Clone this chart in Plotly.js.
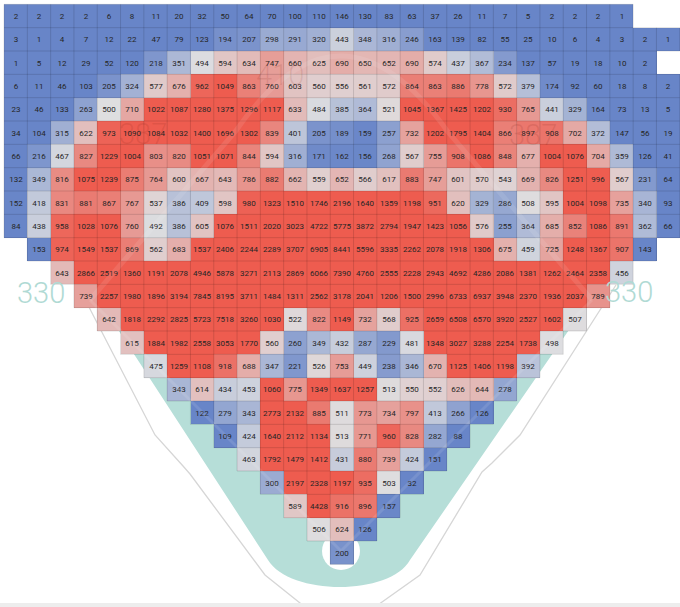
<!DOCTYPE html>
<html><head><meta charset="utf-8">
<script src="https://cdn.plot.ly/plotly-3.0.1.min.js"></script>
<style>html,body{margin:0;padding:0;background:#fff;overflow:hidden}</style>
</head><body><div id="chart" style="width:680px;height:607px"></div>
<script>
// ---- data ----
const nCols = 29;
const rowStart = [0,0,0,0,0,0,0,0,0,0,1,2,3,4,5,6,7,8,9,10,11,12,13,14];
const row00 = [2,2,2,2,6,8,11,20,32,50,64,70,100,110,146,130,83,63,37,26,11,7,5,2,2,2,1];
const row01 = [3,1,4,7,12,22,47,79,123,194,207,298,291,320,443,348,316,246,163,139,82,55,25,10,6,4,3,2,1];
const row02 = [1,5,12,29,52,120,218,351,494,594,634,747,660,625,690,650,652,690,574,437,367,234,137,57,19,18,10,2];
const row03 = [6,11,46,103,205,324,577,676,962,1049,863,760,603,560,556,561,572,864,863,886,778,572,379,174,92,60,18,8,2];
const row04 = [23,46,133,263,500,710,1022,1087,1280,1375,1296,1117,633,484,385,364,521,1045,1367,1425,1202,930,765,441,329,164,73,13,5];
const row05 = [34,104,315,622,973,1090,1084,1032,1400,1696,1302,839,401,205,189,159,257,732,1202,1795,1404,866,897,908,702,372,147,56,19];
const row06 = [66,216,467,827,1229,1004,803,820,1051,1071,844,594,316,171,162,156,268,567,755,908,1086,848,677,1004,1076,704,359,126,41];
const row07 = [132,349,816,1075,1239,875,764,600,667,643,786,882,662,559,652,566,617,883,747,601,570,543,669,826,1251,996,567,231,64];
const row08 = [152,418,831,881,867,767,537,386,409,598,980,1323,1510,1746,2196,1640,1359,1198,951,620,329,286,508,595,1004,1098,735,340,93];
const row09 = [84,438,958,1028,1076,760,492,386,605,1076,1511,2020,3023,4722,5775,3872,2794,1947,1423,1056,576,255,364,685,852,1086,891,362,66];
const row10 = [153,974,1549,1537,869,562,683,1537,2406,2244,2289,3707,6905,8441,5596,3335,2262,2078,1918,1306,675,459,725,1248,1367,907,143];
const row11 = [643,2866,2519,1360,1191,2078,4946,5878,3271,2113,2869,6066,7390,4760,2555,2228,2943,4692,4286,2086,1381,1262,2464,2358,456];
const row12 = [739,2257,1980,1896,3194,7845,8195,3711,1484,1311,2562,3178,2041,1206,1500,2996,6733,6937,3948,2370,1936,2037,789];
const row13 = [642,1818,2292,2825,5723,7518,3260,1030,522,822,1149,732,568,925,2659,6508,6570,3920,2527,1602,507];
const row14 = [615,1884,1982,2558,3053,1770,560,260,349,432,287,229,481,1348,3027,3288,2254,1738,498];
const row15 = [475,1259,1108,918,688,347,221,526,753,449,238,346,670,1125,1406,1198,392];
const row16 = [343,614,434,453,1060,775,1349,1637,1257,513,550,552,626,644,278];
const row17 = [122,279,343,2773,2132,885,511,773,734,797,413,266,126];
const row18 = [109,424,1640,2112,1134,513,771,960,828,282,88];
const row19 = [463,1792,1479,1412,431,880,739,424,151];
const row20 = [300,2197,2328,1197,935,503,32];
const row21 = [589,4428,916,896,157];
const row22 = [506,624,126];
const row23 = [200];
const distLabels = ["330","387","410","387","330"];

const rows = [row00,row01,row02,row03,row04,row05,row06,row07,row08,row09,row10,row11,
              row12,row13,row14,row15,row16,row17,row18,row19,row20,row21,row22,row23];
const nRows = rows.length;
const z = rows.map((r,j)=>{const a=new Array(nCols).fill(null); r.forEach((v,k)=>{a[rowStart[j]+k]=v;}); return a;});
const txt = z.map(r=>r.map(v=>v==null?'':String(v)));
const xs = [...Array(nCols).keys()];
const ys = [...Array(nRows).keys()];

// cell borders derived from the grid
const bx=[], by=[];
function seg(x0,y0,x1,y1){bx.push(x0,x1,null);by.push(y0,y1,null);}
for(let j=0;j<nRows;j++){for(let i=0;i<nCols;i++){
  if(z[j][i]==null) continue;
  seg(i-.5,j-.5,i+.5,j-.5);
  seg(i-.5,j-.5,i-.5,j+.5);
  if(i+1>=nCols||z[j][i+1]==null) seg(i+.5,j-.5,i+.5,j+.5);
  if(j+1>=nRows||z[j+1][i]==null) seg(i-.5,j+.5,i+.5,j+.5);
}}

// ---- styling / field drawing (pixel space -> paper) ----
const W=680,H=607;
function P(str){
  return str.replace(/(-?[\d.]+),(-?[\d.]+)/g,(m,a,b)=>(a/W).toFixed(5)+','+(1-b/H).toFixed(5));
}
const teal='rgb(182,222,216)';
const shapes=[
  {type:'path',xref:'paper',yref:'paper',layer:'below',fillcolor:teal,line:{width:0},
   path:P('M 89,285 L 268,560 C 290,596 390,596 410,560 L 600,285 Z')},
  {type:'path',xref:'paper',yref:'paper',layer:'below',line:{color:'rgb(214,214,214)',width:1.3},
   path:P('M 75,280 L 155,435 L 183,466 L 190,474 L 265,575 L 305,607')},
  {type:'path',xref:'paper',yref:'paper',layer:'below',line:{color:'rgb(214,214,214)',width:1.3},
   path:P('M 616,285 L 520,435 L 492,463 L 482,472 L 420,575 L 375,607')},
  {type:'circle',xref:'paper',yref:'paper',layer:'below',fillcolor:'#fff',line:{width:0},
   x0:322/W,x1:360/W,y0:1-532/H,y1:1-570/H},
  {type:'path',xref:'paper',yref:'paper',layer:'above',opacity:0.1,line:{color:'#fff',width:3},
   path:P('M 90,300 L 341,551 L 592,300')},
  {type:'path',xref:'paper',yref:'paper',layer:'above',opacity:0.09,line:{color:'#fff',width:5},
   path:P('M 90,300 L 235,132 Q 340,-20 448,132 L 592,300')},
  {type:'rect',xref:'paper',yref:'paper',layer:'above',fillcolor:'rgb(237,237,237)',line:{width:0},
   x0:0,x1:1,y0:0,y1:1-603/H}
];
const annotations=[
  {text:distLabels[0],x:41/W,y:1-293/H,font:{color:'rgb(176,218,212)',size:29,weight:300}},
  {text:distLabels[4],x:629/W,y:1-292/H,font:{color:'rgb(176,218,212)',size:29,weight:300}},
  {text:distLabels[1],x:143/W,y:1-134/H,font:{color:'rgba(120,30,20,0.14)',size:29,weight:300}},
  {text:distLabels[3],x:533/W,y:1-135/H,font:{color:'rgba(120,30,20,0.14)',size:29,weight:300}},
  {text:distLabels[2],x:280/W,y:1-75/H,font:{color:'rgba(120,30,20,0.12)',size:29,weight:300}}
].map(a=>Object.assign({xref:'paper',yref:'paper',showarrow:false,xanchor:'center',yanchor:'middle'},a,{font:Object.assign({family:'Roboto'},a.font)}));

const zmin=150,zmid=500,zmax=1000;
const colorscale=[[0,'rgb(104,133,200)'],[(zmid-zmin)/(zmax-zmin),'rgb(222,222,224)'],[1,'rgb(238,92,79)']];

const data=[
  {type:'heatmap',x:xs,y:ys,z:z,text:txt,texttemplate:'%{text}',zmin:zmin,zmax:zmax,
   colorscale:colorscale,showscale:false,hoverinfo:'skip',
   textfont:{family:'Roboto',size:8,color:'#262626'}},
  {type:'scatter',mode:'lines',x:bx,y:by,line:{color:'rgba(0,0,0,0.13)',width:1},hoverinfo:'skip',showlegend:false}
];
const layout={
  width:W,height:H,autosize:false,margin:{l:0,r:0,t:0,b:0},
  paper_bgcolor:'#fff',plot_bgcolor:'rgba(0,0,0,0)',showlegend:false,
  xaxis:{range:[(0-15.7)/23.3,(W-15.7)/23.3],visible:false,fixedrange:true},
  yaxis:{range:[(H-16)/23.333,(0-16)/23.333],visible:false,fixedrange:true},
  shapes:shapes,annotations:annotations
};
Plotly.newPlot('chart',data,layout,{staticPlot:true,displayModeBar:false});
</script></body></html>
